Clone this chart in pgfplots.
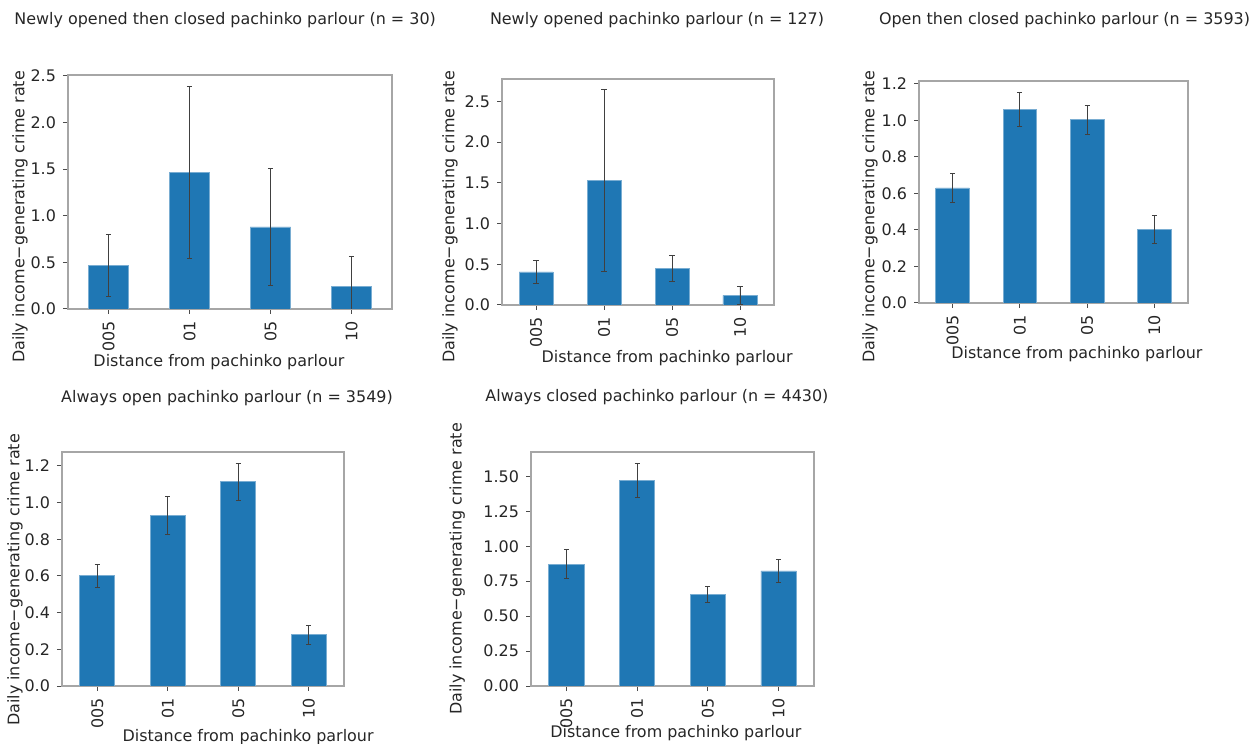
\documentclass[border=0pt]{standalone}
\usepackage{fontspec}
\setmainfont{DejaVu Sans}
\usepackage{pgfplots}
\usepackage{pgfplotstable}
\pgfplotsset{compat=1.18}
\definecolor{mplblue}{HTML}{1F77B4}
\definecolor{txt}{HTML}{262626}

\pgfplotstableread{
x y e
0 0.465 0.335
1 1.467 0.920
2 0.880 0.630
3 0.244 0.320
}\tA
\pgfplotstableread{
x y e
0 0.406 0.142
1 1.529 1.116
2 0.447 0.162
3 0.119 0.111
}\tB
\pgfplotstableread{
x y e
0 0.630 0.079
1 1.061 0.094
2 1.003 0.080
3 0.404 0.076
}\tC
\pgfplotstableread{
x y e
0 0.601 0.063
1 0.932 0.104
2 1.114 0.101
3 0.279 0.053
}\tD
\pgfplotstableread{
x y e
0 0.870 0.103
1 1.471 0.121
2 0.656 0.059
3 0.823 0.080
}\tE

\pgfplotsset{
  every axis title/.style={anchor=center, text=txt},
  panel/.style={
    scale only axis,
    anchor=south west,
    font=\fontsize{8}{9.6}\selectfont,
    every tick label/.append style={text=txt},
    /pgf/number format/assume math mode=true,
    xmin=-0.5, xmax=3.5, ymin=0,
    enlargelimits=false,
    xtick={0,1,2,3},
    xticklabels={005,01,05,10},
    xticklabel style={rotate=90, anchor=east},
    xtick pos=left, ytick pos=left,
    tick align=outside,
    major tick length=2.5bp,
    tick style={black!70, line width=0.5pt},
    axis line style={black!35, line width=0.6pt},
    ylabel={Daily income−generating crime rate},
    xlabel={Distance from pachinko parlour},
    label style={text=txt},
    xlabel style={anchor=center},
    ylabel style={anchor=center},
    yticklabel style={/pgf/number format/.cd, fixed, fixed zerofill, precision=1},
  },
  barplot/.style={
    ybar, bar width=0.5, bar shift=0pt,
    fill=mplblue, draw=mplblue!60!white, line width=0.4pt,
    error bars/.cd, y dir=both, y explicit,
    error bar style={black!75, line width=0.5pt},
    error mark options={rotate=90, black!75, line width=0.5pt, mark size=1.3bp},
  },
}

\begin{document}
\begin{tikzpicture}
\useasboundingbox (0,0) rectangle (627.5bp,372bp);

% Plot 1
\begin{axis}[panel, at={(34bp,217.5bp)}, width=162bp, height=117bp,
  ymax=2.51, ytick={0,0.5,...,2.5},
  title={Newly opened then closed pachinko parlour (n = 30)},
  title style={at={(axis description cs:0.485,1.235)}},
  xlabel style={at={(axis description cs:0.466,-0.226)}},
  ylabel style={at={(axis description cs:-0.148,0.393)}},
]
\addplot[barplot] table[x=x, y=y, y error=e] {\tA};
\end{axis}

% Plot 2
\begin{axis}[panel, at={(251bp,219.5bp)}, width=136bp, height=113bp,
  ymax=2.776, ytick={0,0.5,...,2.5},
  title={Newly opened pachinko parlour (n = 127)},
  title style={at={(axis description cs:0.570,1.261)}},
  xlabel style={at={(axis description cs:0.607,-0.235)}},
  ylabel style={at={(axis description cs:-0.191,0.389)}},
]
\addplot[barplot] table[x=x, y=y, y error=e] {\tB};
\end{axis}

% Plot 3
\begin{axis}[panel, at={(459.5bp,220.5bp)}, width=134.5bp, height=111bp,
  ymax=1.216, ytick={0,0.2,...,1.2},
  title={Open then closed pachinko parlour (n = 3593)},
  title style={at={(axis description cs:0.541,1.275)}},
  xlabel style={at={(axis description cs:0.587,-0.230)}},
  ylabel style={at={(axis description cs:-0.182,0.387)}},
]
\addplot[barplot] table[x=x, y=y, y error=e] {\tC};
\end{axis}

% Plot 4
\begin{axis}[panel, at={(31bp,29bp)}, width=141bp, height=117bp,
  ymax=1.276, ytick={0,0.2,...,1.2},
  title={Always open pachinko parlour (n = 3549)},
  title style={at={(axis description cs:0.585,1.231)}},
  xlabel style={at={(axis description cs:0.660,-0.218)}},
  ylabel style={at={(axis description cs:-0.167,0.453)}},
]
\addplot[barplot] table[x=x, y=y, y error=e] {\tD};
\end{axis}

% Plot 5
\begin{axis}[panel, at={(265.5bp,29bp)}, width=141.5bp, height=117bp,
  ymax=1.674, ytick={0,0.25,...,1.5},
  yticklabel style={/pgf/number format/.cd, fixed, fixed zerofill, precision=2},
  title={Always closed pachinko parlour (n = 4430)},
  title style={at={(axis description cs:0.445,1.235)}},
  xlabel style={at={(axis description cs:0.512,-0.201)}},
  ylabel style={at={(axis description cs:-0.261,0.5)}},
]
\addplot[barplot] table[x=x, y=y, y error=e] {\tE};
\end{axis}
\end{tikzpicture}
\end{document}
